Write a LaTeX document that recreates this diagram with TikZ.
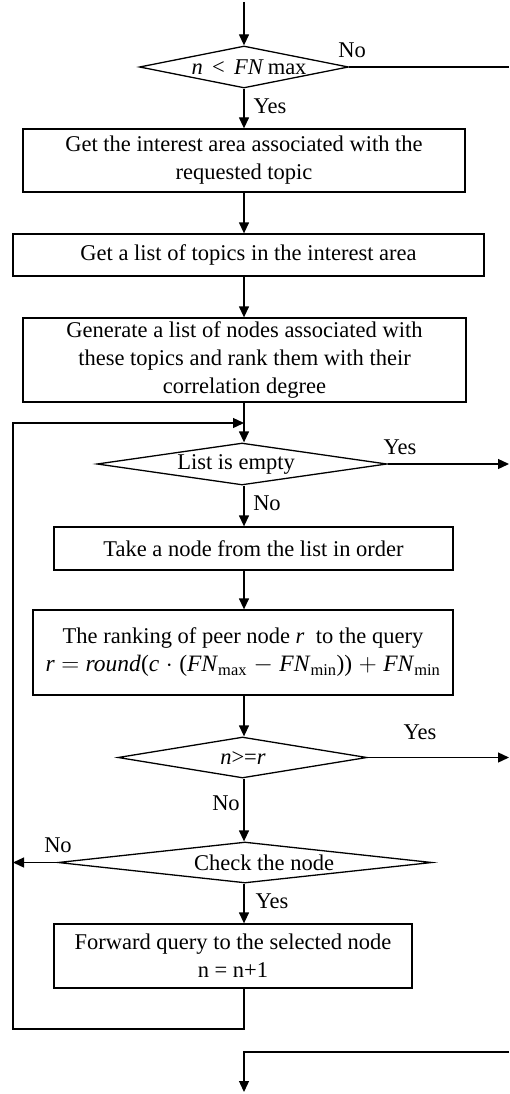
\documentclass[tikz,border=0pt]{standalone}
\usepackage{fontspec}
\setmainfont{Liberation Serif}
\usetikzlibrary{shapes.geometric,arrows.meta}
\begin{document}
\begin{tikzpicture}[x=1pt,y=-1pt,
  font=\fontsize{22.5}{28}\selectfont,
  line width=1.3pt,
  box/.style={draw, rectangle, inner sep=0pt, align=center},
  dec/.style={draw, diamond, inner sep=0pt},
  arr/.style={-{Triangle[length=11pt,width=10pt]}},
  lbl/.style={inner sep=0pt}]
\useasboundingbox (0,0) rectangle (509,1094);
\coordinate (axis) at (244,0);
\coordinate (start) at (244,2);
% nodes
\node[dec, minimum width=209pt, minimum height=42pt] (d1) at (244,67) {};
\node[lbl] (t1) at (249,67) {\textit{n} \,<\, \textit{FN}\,max};
\node[box, minimum width=442pt, minimum height=63pt] (b1) at (244,160.5) {Get the interest area associated with the\\requested topic};
\node[box, minimum width=471pt, minimum height=42pt] (b2) at (248.5,255) {Get a list of topics in the interest area};
\node[box, minimum width=443pt, minimum height=84pt] (b3) at (244.5,360) {Generate a list of nodes associated with\\these topics and rank them with their\\correlation degree};
\node[dec, minimum width=290pt, minimum height=42pt] (d2) at (242,464) {};
\node[lbl] (t2) at (236,464) {List is empty};
\node[box, minimum width=399pt, minimum height=43pt] (b4) at (253.5,548.5) {Take a node from the list in order};
\node[box, minimum width=420pt, minimum height=85pt] (b5) at (243,652.5) {The ranking of peer node \textit{r} \ to the query\\{\fontsize{23.5}{28}\selectfont\textit{r}\;$=$\;\textit{round}(\textit{c}\;$\cdot$\;(\textit{FN}\textsubscript{max}\;$-$\;\textit{FN}\textsubscript{min}))\;$+$\;\textit{FN}\textsubscript{min}}};
\node[dec, minimum width=249pt, minimum height=41pt] (d3) at (242.5,757.5) {};
\node[lbl] (t3) at (243,758) {\textit{n}>=\textit{r}};
\node[dec, minimum width=374pt, minimum height=41pt] (d4) at (245,862.5) {};
\node[lbl] (t4) at (264,863) {Check the node};
\node[box, minimum width=358pt, minimum height=64pt] (b6) at (233,956) {Forward query to the selected node\\n = n+1};
% labels
\node[lbl] (no1) at (352,50) {No};
\node[lbl] (yes1) at (270,106) {Yes};
\node[lbl] (yes2) at (400,447) {Yes};
\node[lbl] (no2) at (267,503) {No};
\node[lbl] (yes3) at (420,732) {Yes};
\node[lbl] (no3) at (226,803) {No};
\node[lbl] (no4) at (58,845) {No};
\node[lbl] (yes4) at (272,901) {Yes};
% free ends
\coordinate (e1) at (509,67);
\coordinate (e2) at (509,464);
\coordinate (e3) at (509,757.5);
\coordinate (w4) at (13,862.5);
\coordinate (l1) at (244,1029);
\coordinate (l2) at (13,1029);
\coordinate (l3) at (13,423);
\coordinate (l4) at (244,423);
\coordinate (e5) at (509,1052);
\coordinate (m5) at (244,1052);
\coordinate (finish) at (244,1092);
% connectors
\draw[arr] (start) -- (axis |- d1.north);
\draw[arr] (axis |- d1.south) -- (axis |- b1.north);
\draw (d1.east) -- (e1);
\draw[arr] (axis |- b1.south) -- (axis |- b2.north);
\draw[arr] (axis |- b2.south) -- (axis |- b3.north);
\draw[arr] (axis |- b3.south) -- (axis |- d2.north);
\draw[arr] (d2.east) -- (e2);
\draw[arr] (axis |- d2.south) -- (axis |- b4.north);
\draw[arr] (axis |- b4.south) -- (axis |- b5.north);
\draw[arr] (axis |- b5.south) -- (axis |- d3.north);
\draw[arr] (d3.east) -- (e3);
\draw[arr] (axis |- d3.south) -- (axis |- d4.north);
\draw[arr] (d4.west) -- (w4);
\draw[arr] (axis |- d4.south) -- (axis |- b6.north);
\draw[arr] (l1 |- b6.south) -- (l1) -- (l2) -- (l3) -- (l4);
\draw[arr] (e5) -- (m5) -- (finish);
\end{tikzpicture}
\end{document}
